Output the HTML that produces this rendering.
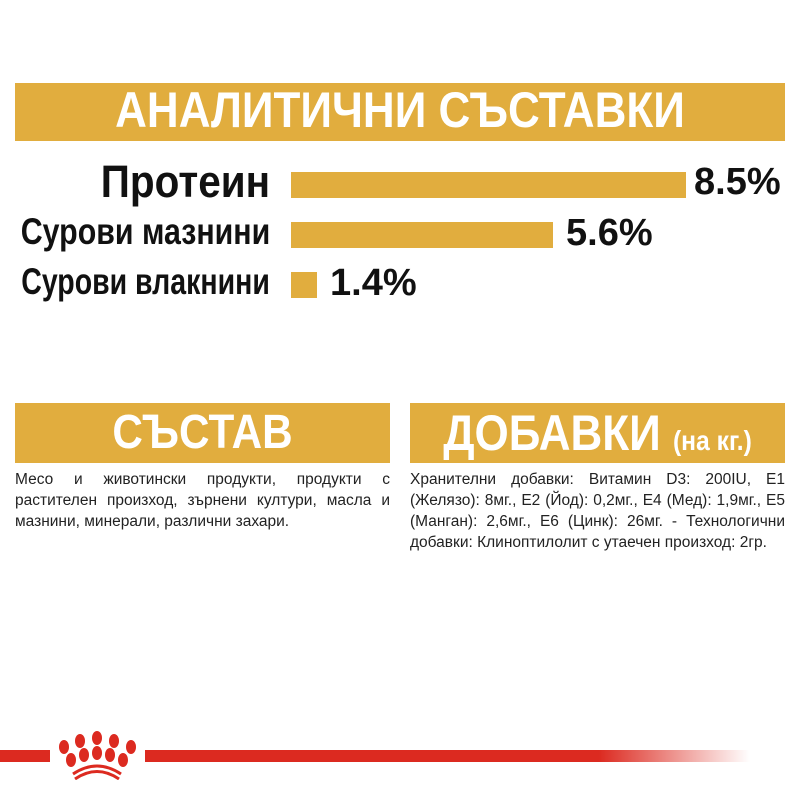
<!DOCTYPE html>
<html><head><meta charset="utf-8"><style>
body{margin:0;width:800px;height:800px;background:#fff;position:relative;overflow:hidden;font-family:"Liberation Sans",sans-serif}
.bar{position:absolute;background:#e1ad3e}
.t{position:absolute;font-weight:bold;white-space:nowrap}
.lbl{position:absolute;right:530px;font-weight:bold;color:#111;white-space:nowrap;transform-origin:right center}
.pct{position:absolute;font-size:38px;font-weight:bold;color:#111;transform-origin:left center}
.txt{position:absolute;font-size:15.5px;line-height:21px;color:#222;width:375px}
.txt div{text-align:justify;text-align-last:justify;white-space:nowrap}
.txt div.l{text-align-last:left}
</style></head><body>
<div class="bar" style="left:15px;top:83px;width:770px;height:58px"></div>
<div class="t" style="left:15px;width:770px;top:81px;height:58px;line-height:58px;text-align:center;color:#fff;font-size:50px;transform:scaleX(0.88)">АНАЛИТИЧНИ СЪСТАВКИ</div>

<div class="lbl" style="top:156px;font-size:45px;transform:scaleX(0.9)">Протеин</div>
<div class="bar" style="left:291px;top:172px;width:395px;height:26px"></div>
<div class="pct" style="left:694px;top:161px">8.5%</div>

<div class="lbl" style="top:211px;font-size:37px;transform:scaleX(0.82)">Сурови мазнини</div>
<div class="bar" style="left:291px;top:222px;width:262px;height:26px"></div>
<div class="pct" style="left:566px;top:212px">5.6%</div>

<div class="lbl" style="top:261px;font-size:37px;transform:scaleX(0.77)">Сурови влакнини</div>
<div class="bar" style="left:291px;top:272px;width:26px;height:26px"></div>
<div class="pct" style="left:330px;top:262px">1.4%</div>

<div class="bar" style="left:15px;top:403px;width:375px;height:60px"></div>
<div class="t" style="left:15px;width:375px;top:403px;line-height:60px;text-align:center;color:#fff;font-size:48px;transform:scaleX(0.88)">СЪСТАВ</div>
<div class="bar" style="left:410px;top:403px;width:375px;height:60px"></div>
<div class="t" style="left:410px;width:375px;top:403px;line-height:60px;text-align:center;color:#fff;font-size:50px;transform:scaleX(0.88)">ДОБАВКИ <span style="font-size:28px">(на кг.)</span></div>

<div class="txt" style="left:15px;top:469px">
<div>Месо и животински продукти, продукти с</div>
<div>растителен произход, зърнени култури, масла и</div>
<div class="l">мазнини, минерали, различни захари.</div>
</div>
<div class="txt" style="left:410px;top:469px">
<div>Хранителни добавки: Витамин D3: 200IU, E1</div>
<div>(Желязо): 8мг., E2 (Йод): 0,2мг., E4 (Мед): 1,9мг., E5</div>
<div>(Манган): 2,6мг., E6 (Цинк): 26мг. - Технологични</div>
<div class="l">добавки: Клиноптилолит с утаечен произход: 2гр.</div>
</div>

<svg style="position:absolute;left:0;top:730px" width="800" height="50">
<defs><linearGradient id="g" x1="0" x2="1"><stop offset="0" stop-color="#dc2a20"/><stop offset="0.75" stop-color="#dc2a20"/><stop offset="1" stop-color="#dc2a20" stop-opacity="0"/></linearGradient></defs>
<rect x="0" y="20" width="50" height="12" fill="#dc2a20"/>
<rect x="145" y="20" width="605" height="12" fill="url(#g)"/>
<g fill="#dc2a20">
<ellipse cx="64" cy="17" rx="5" ry="7"/><ellipse cx="80" cy="11" rx="5" ry="7"/><ellipse cx="97" cy="8" rx="5" ry="7"/><ellipse cx="114" cy="11" rx="5" ry="7"/><ellipse cx="131" cy="17" rx="5" ry="7"/>
<ellipse cx="71" cy="30" rx="5" ry="7"/><ellipse cx="84" cy="25" rx="5" ry="7"/><ellipse cx="97" cy="23" rx="5" ry="7"/><ellipse cx="110" cy="25" rx="5" ry="7"/><ellipse cx="123" cy="30" rx="5" ry="7"/>
</g>
<path d="M73 44 Q97 28 121 44" stroke="#dc2a20" stroke-width="3" fill="none"/>
<path d="M75 49 Q97 34 119 49" stroke="#dc2a20" stroke-width="3" fill="none"/>
</svg>
</body></html>
